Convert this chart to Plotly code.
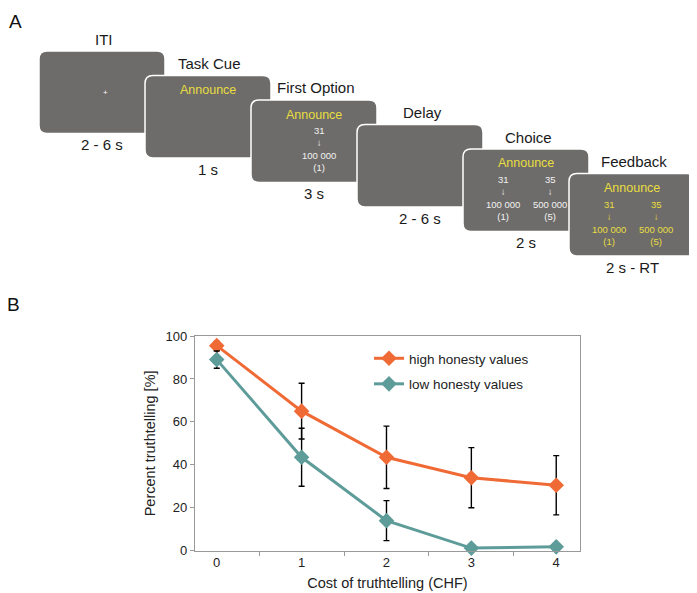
import plotly.graph_objects as go

W, H = 697, 593
OX, OY = 8, 8  # page body margin offset
FW, FH = W - OX, H - OY

# ---------------- Panel B data ----------------
cost = ["0", "1", "2", "3", "4"]
high_vals = [95.5, 65, 43.5, 34, 30.5]
high_err = [2, 13, 14.5, 14, 13.8]
low_vals = [89, 43.5, 14, 1.2, 1.8]
low_err = [4, 13.5, 9.3, 0.5, 0.8]
y_ticks = [0, 20, 40, 60, 80, 100]

# ---------------- Panel A data ----------------
screens = ["ITI", "Task Cue", "First Option", "Delay", "Choice", "Feedback"]
durations = ["2 - 6 s", "1 s", "3 s", "2 - 6 s", "2 s", "2 s - RT"]
cues = [None, "Announce", "Announce", None, "Announce", "Announce"]
options = [
    [],
    [],
    [("31", "100 000", "(1)")],
    [],
    [("31", "100 000", "(1)"), ("35", "500 000", "(5)")],
    [("31", "100 000", "(1)"), ("35", "500 000", "(5)")],
]
option_yellow = [False, False, False, False, False, True]

FONT = "Liberation Sans, Arial, sans-serif"
GRAY = "#6e6c6a"
YELLOW = "#e8de40"
ORANGE = "#f06a35"
TEAL = "#5e9c9a"


def px(x):
    return (x - OX) / FW


def py(y):
    return 1 - (y - OY) / FH


def rrect_path(x0, y0, x1, y1, r):
    pts = [
        ("M", [(x0 + r, y0)]),
        ("L", [(x1 - r, y0)]),
        ("Q", [(x1, y0), (x1, y0 + r)]),
        ("L", [(x1, y1 - r)]),
        ("Q", [(x1, y1), (x1 - r, y1)]),
        ("L", [(x0 + r, y1)]),
        ("Q", [(x0, y1), (x0, y1 - r)]),
        ("L", [(x0, y0 + r)]),
        ("Q", [(x0, y0), (x0 + r, y0)]),
    ]
    s = ""
    for cmd, ps in pts:
        s += cmd + " " + " ".join(f"{px(a):.5f},{py(b):.5f}" for a, b in ps) + " "
    return s + "Z"


def label(x, y, text, size, color, **kw):
    d = dict(x=px(x), y=py(y), xref="paper", yref="paper", text=text,
             showarrow=False, xanchor="center", yanchor="middle",
             font=dict(family=FONT, size=size, color=color))
    d.update(kw)
    return d


fig = go.Figure()

fig.add_trace(go.Scatter(
    x=cost, y=high_vals, name="high honesty values", legendgroup="a",
    mode="lines+markers",
    line=dict(color=ORANGE, width=3),
    marker=dict(symbol="diamond", size=12, color=ORANGE),
    error_y=dict(type="data", array=high_err, color="black", thickness=1.4, width=3),
    cliponaxis=False,
))
fig.add_trace(go.Scatter(
    x=cost, y=low_vals, name="low honesty values", legendgroup="b",
    mode="lines+markers",
    line=dict(color=TEAL, width=3),
    marker=dict(symbol="diamond", size=12, color=TEAL),
    error_y=dict(type="data", array=low_err, color="black", thickness=1.4, width=3),
    cliponaxis=False,
))

shapes = []
annotations = []

# Panel A screens
BW, BH = 126, 82.5
for i, name in enumerate(screens):
    x0 = 39 + i * 106
    y0 = 51 + i * 24.5
    x1, y1 = x0 + BW, y0 + BH
    cx = (x0 + x1) / 2
    shapes.append(dict(type="path", xref="paper", yref="paper",
                       path=rrect_path(x0, y0, x1, y1, 8),
                       fillcolor=GRAY, line=dict(color="white", width=1.5),
                       layer="above"))
    annotations.append(label(cx + 2, y0 - 12, name, 15, "#1a1a1a"))
    annotations.append(label(cx, y1 + 11, durations[i], 15, "#1a1a1a"))
    if name == "ITI":
        annotations.append(label(cx + 3, (y0 + y1) / 2, "+", 8, "white"))
    if cues[i]:
        annotations.append(label(cx, y0 + 14.5, cues[i], 12.5, YELLOW))
    opts = options[i]
    col = YELLOW if option_yellow[i] else "#f2f2f2"
    offs = [4.5] if len(opts) == 1 else [-23, 23.5]
    for (n, amt, sub), off in zip(opts, offs):
        block = "<br>".join([n, "↓", amt, sub])
        annotations.append(label(cx + off, y0 + 49, block, 9.5, col))

annotations.append(label(15, 21, "A", 19, "#111"))
annotations.append(label(13, 304, "B", 19, "#111"))

fig.update_layout(
    width=FW, height=FH,
    margin=dict(l=0, r=0, t=0, b=0, autoexpand=False),
    paper_bgcolor="white", plot_bgcolor="white",
    font=dict(family=FONT, size=13, color="#222"),
    shapes=shapes, annotations=annotations,
    showlegend=True,
    legend=dict(x=px(369), y=py(343), xanchor="left", yanchor="top",
                font=dict(family=FONT, size=13.5, color="#222"),
                bgcolor="rgba(0,0,0,0)", tracegroupgap=5, traceorder="grouped",
                itemwidth=30),
    xaxis=dict(domain=[px(195), px(580)], type="category",
               categoryorder="array", categoryarray=cost,
               range=[-0.256, 4.28], tickson="boundaries", automargin=False,
               ticks="outside", ticklen=4, tickcolor="#999",
               showline=True, linecolor="#999", linewidth=1.3, mirror=True,
               showgrid=False, zeroline=False,
               tickfont=dict(family=FONT, size=13, color="#222"),
               title=dict(text="Cost of truthtelling (CHF)", standoff=8,
                          font=dict(family=FONT, size=14.5, color="#222"))),
    yaxis=dict(domain=[py(550.7), py(336)], range=[0, 100], automargin=False,
               tickvals=y_ticks, ticks="outside", ticklen=4, tickcolor="#999",
               showline=True, linecolor="#999", linewidth=1.3, mirror=True,
               showgrid=False, zeroline=False,
               tickfont=dict(family=FONT, size=13, color="#222"),
               title=dict(text="Percent truthtelling [%]", standoff=6,
                          font=dict(family=FONT, size=14.5, color="#222"))),
)

fig.write_html("out.html")
